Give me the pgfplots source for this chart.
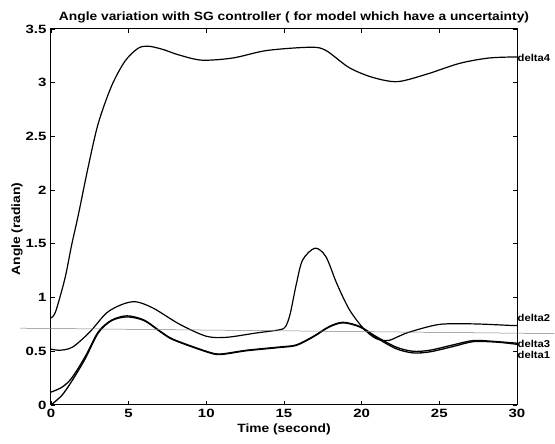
\documentclass[border=0pt]{standalone}
\usepackage{pgfplots}
\pgfplotsset{compat=1.18}
\usepackage{fontspec}
\setmainfont{Liberation Sans}
\newfontfamily\wideA[FakeStretch=1.25]{Liberation Sans}
\newfontfamily\wideB[FakeStretch=1.15]{Liberation Sans}
\newfontfamily\wideC[FakeStretch=1.12]{Liberation Sans}
\begin{document}
\begin{tikzpicture}
\begin{axis}[
  scale only axis,
  width=466pt, height=376pt,
  xmin=0, xmax=30, ymin=0, ymax=3.5,
  xtick={0,5,...,30}, ytick={0,0.5,...,3.5},
  yticklabels={0,0.5,1,1.5,2,2.5,3,3.5},
  /pgf/number format/assume math mode=true,
  tick label style={font=\wideA\fontsize{12}{13}\selectfont\bfseries},
  xticklabel style={yshift=-1pt},
  yticklabel style={xshift=-1pt},
  label style={font=\wideB\fontsize{12}{13}\selectfont\bfseries},
  title style={font=\wideB\fontsize{12}{13}\selectfont\bfseries, xshift=10pt, yshift=-4pt},
  title={Angle variation with SG controller ( for model which have a uncertainty)},
  xlabel={Time (second)},
  ylabel={Angle (radian)},
  xlabel style={yshift=1pt},
  ylabel style={yshift=-4pt, xshift=-12pt},
  major tick length=4pt,
  axis line style={line width=1pt},
  tick style={line width=0.8pt, black},
  clip=false,
  every axis plot/.append style={black, smooth, tension=0.5},
]
\addplot[line width=1.2pt] coordinates {
(0,0.81) (0.3,0.87) (0.9,1.18) (1.33,1.49) (1.76,1.77) (2.4,2.22) (3.04,2.62) (3.9,2.97) (4.76,3.2) (5.6,3.32) (6.26,3.34) (7.2,3.31) (8.2,3.26) (9.7,3.21) (11.7,3.23) (13.9,3.30) (16.7,3.33) (17.7,3.30) (19.2,3.14) (20.7,3.05) (22.3,3.01) (24.2,3.08) (26.3,3.18) (28.2,3.23) (30,3.24)};
\addplot[line width=1.2pt] coordinates {
(0,0.52) (0.6,0.51) (1.4,0.54) (2.5,0.68) (3.6,0.86) (4.65,0.94) (5.5,0.96) (6.6,0.90) (8.3,0.75) (10.0,0.64) (11.3,0.63) (13.2,0.67) (14.7,0.70) (15.1,0.73) (15.4,0.85) (15.8,1.13) (16.2,1.35) (17.0,1.46) (17.7,1.38) (18.4,1.13) (19.2,0.89) (20.1,0.715) (20.9,0.62) (21.7,0.60) (22.4,0.64) (23.1,0.68) (25.0,0.75) (27.2,0.755) (29.7,0.74) (30,0.74)};
\addplot[line width=1.3pt] coordinates {
(0,0.12) (0.7,0.165) (1.33,0.25) (2.2,0.45) (3.04,0.68) (3.9,0.79) (4.9,0.83) (6.0,0.79) (7.1,0.68) (7.9,0.61) (10,0.50) (10.9,0.475) (12.6,0.51) (14.7,0.54) (15.8,0.56) (16.9,0.64) (17.9,0.73) (18.8,0.77) (19.9,0.73) (20.9,0.64) (22.2,0.54) (23.3,0.50) (24.4,0.51) (25.9,0.56) (27.2,0.60) (28.7,0.59) (30,0.575)};
\addplot[line width=1.3pt] coordinates {
(0,0.0) (0.7,0.09) (1.33,0.22) (2.2,0.43) (3.04,0.67) (3.9,0.785) (4.9,0.82) (6.0,0.785) (7.1,0.675) (7.9,0.605) (10,0.495) (10.9,0.47) (12.6,0.505) (14.7,0.535) (15.8,0.555) (16.9,0.635) (17.9,0.725) (18.8,0.765) (19.9,0.725) (20.9,0.63) (22.2,0.525) (23.3,0.485) (24.4,0.495) (25.9,0.545) (27.2,0.59) (28.7,0.585) (30,0.565)};
\addplot[gray, line width=0.5pt, sharp plot] coordinates {(-2,0.715) (32.4,0.665)};
\node[anchor=west, inner sep=0.5pt, font=\wideC\fontsize{10}{11}\selectfont\bfseries] at (axis cs:30,3.23) {delta4};
\node[anchor=west, inner sep=0.5pt, font=\wideC\fontsize{10}{11}\selectfont\bfseries] at (axis cs:30,0.81) {delta2};
\node[anchor=west, inner sep=0.5pt, font=\wideC\fontsize{10}{11}\selectfont\bfseries] at (axis cs:30,0.57) {delta3};
\node[anchor=west, inner sep=0.5pt, font=\wideC\fontsize{10}{11}\selectfont\bfseries] at (axis cs:30,0.47) {delta1};
\coordinate (SW) at (rel axis cs:0,0);
\coordinate (NE) at (rel axis cs:1,1);
\end{axis}
\pgfresetboundingbox
\path[use as bounding box] ([shift={(-51pt,-39pt)}]SW) rectangle ([shift={(38pt,29pt)}]NE);
\end{tikzpicture}
\end{document}
